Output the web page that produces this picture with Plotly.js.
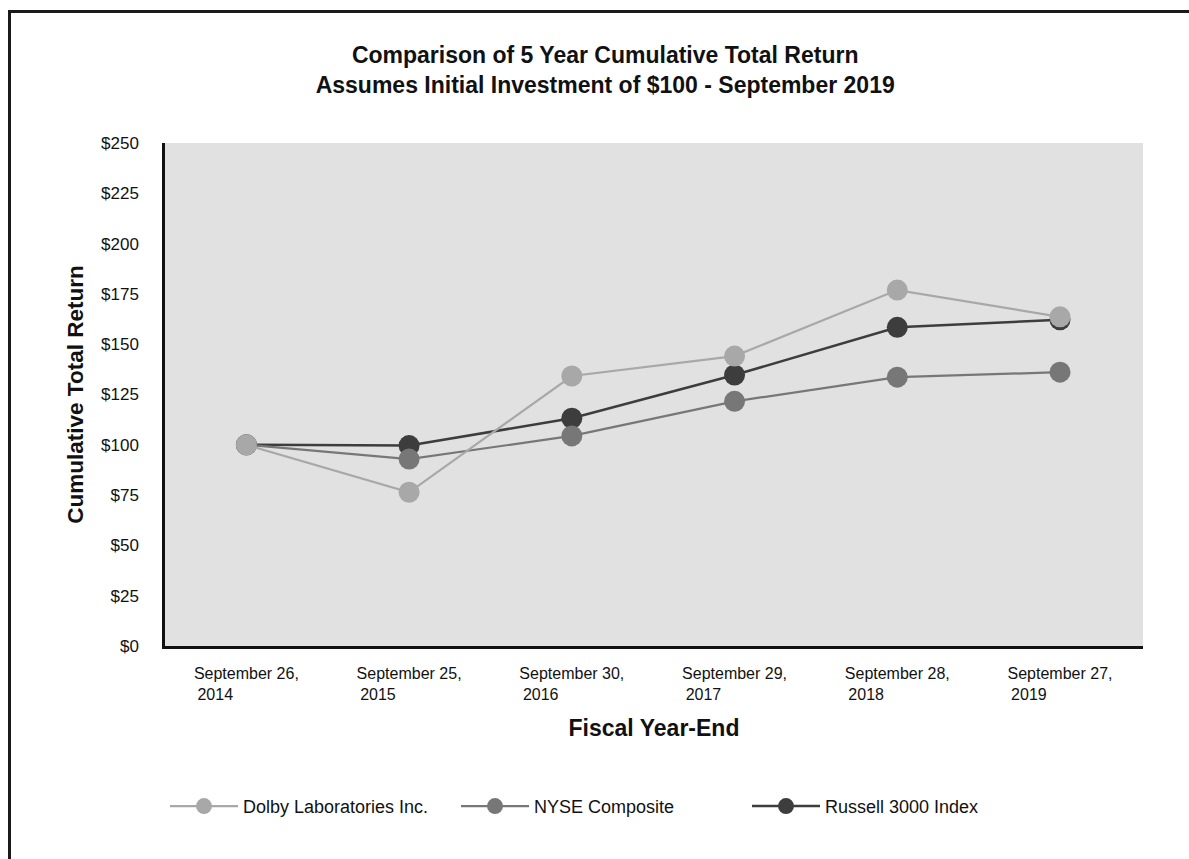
<!DOCTYPE html>
<html>
<head>
<meta charset="utf-8">
<script src="https://cdn.plot.ly/plotly-3.0.1.min.js"></script>
<style>
  html, body { margin: 0; padding: 0; background: #ffffff; }
  #chart { width: 1189px; height: 859px; }
  #frame { position: absolute; left: 8px; top: 10px; width: 1300px; height: 1000px;
           border-top: 3px solid #1a1a1a; border-left: 3px solid #1a1a1a; pointer-events: none; }
</style>
</head>
<body>
<div id="frame"></div>
<div id="chart"></div>
<script>
// ---- data ----
const categories = ["Sep 2014", "Sep 2015", "Sep 2016", "Sep 2017", "Sep 2018", "Sep 2019"];
const tickLabels = [
  "September 26,",
  "September 25,",
  "September 30,",
  "September 29,",
  "September 28,",
  "September 27,"
];
const tickYears = ["2014", "2015", "2016", "2017", "2018", "2019"];
const dolby   = [100, 76.4, 134.2, 144.1, 176.9, 163.6];
const nyse    = [100, 92.9, 104.4, 121.6, 133.6, 136.1];
const russell = [100, 99.6, 113.2, 134.7, 158.4, 162.1];
const yTicks  = [0, 25, 50, 75, 100, 125, 150, 175, 200, 225, 250];
const yTickLabels = ["$0", "$25", "$50", "$75", "$100", "$125", "$150", "$175", "$200", "$225", "$250"];

const NB = "\u00A0";
const pad = NB.repeat(15);
const tickText = tickLabels.map((t, i) => t + "<br>" + NB + tickYears[i] + pad);

const FONT = "Liberation Sans, Arial, Helvetica, sans-serif";

function series(name, y, color, lw, rank) {
  return {
    type: "scatter", mode: "lines+markers", name: name,
    x: categories, y: y,
    line: { color: color, width: lw },
    marker: { color: color, size: 21 },
    legendrank: rank,
    hoverinfo: "x+y+name"
  };
}

const traces = [
  series("Russell 3000 Index", russell, "#3d3d3d", 2.5, 3),
  series("NYSE Composite", nyse, "#777777", 2.2, 2),
  series("Dolby Laboratories Inc.", dolby, "#a8a8a8", 2.2, 1)
];

const layout = {
  width: 1189, height: 859,
  paper_bgcolor: "rgba(0,0,0,0)",
  plot_bgcolor: "#e1e1e1",
  font: { family: FONT, color: "#111111" },
  margin: { l: 165, r: 46, t: 143, b: 213 },
  title: {
    text: "<b>Comparison of 5 Year Cumulative Total Return<br>Assumes Initial Investment of $100 - September 2019</b>",
    font: { size: 23, family: FONT, color: "#111111" },
    xref: "container", x: 0.509, xanchor: "center",
    yref: "container", y: 0.927, yanchor: "middle"
  },
  xaxis: {
    type: "category",
    range: [-0.5, 5.51],
    tickmode: "array", tickvals: categories, ticktext: tickText,
    tickfont: { size: 16, family: FONT, color: "#111111" },
    ticks: "outside", ticklen: 11, tickcolor: "rgba(0,0,0,0)",
    showgrid: false, zeroline: false,
    showline: true, linecolor: "#111111", linewidth: 2.5,
    title: { text: "<b>Fiscal Year-End</b>", font: { size: 23, family: FONT, color: "#111111" }, standoff: 19 },
    automargin: false
  },
  yaxis: {
    range: [0, 250],
    tickmode: "array", tickvals: yTicks, ticktext: yTickLabels,
    tickfont: { size: 17, family: FONT, color: "#111111" },
    ticks: "outside", ticklen: 20, tickcolor: "rgba(0,0,0,0)",
    showgrid: false, zeroline: false,
    showline: true, linecolor: "#111111", linewidth: 2.5,
    title: { text: "<b>Cumulative Total Return</b>", font: { size: 22.5, family: FONT, color: "#111111" }, standoff: 12 },
    automargin: false
  },
  showlegend: true,
  legend: {
    orientation: "h",
    x: 0, xanchor: "left",
    y: -0.282, yanchor: "top",
    entrywidth: 208, entrywidthmode: "pixels",
    itemwidth: 68,
    font: { size: 18, family: FONT, color: "#111111" },
    bgcolor: "rgba(0,0,0,0)"
  }
};

Plotly.newPlot("chart", traces, layout, { displayModeBar: false });
</script>
</body>
</html>
